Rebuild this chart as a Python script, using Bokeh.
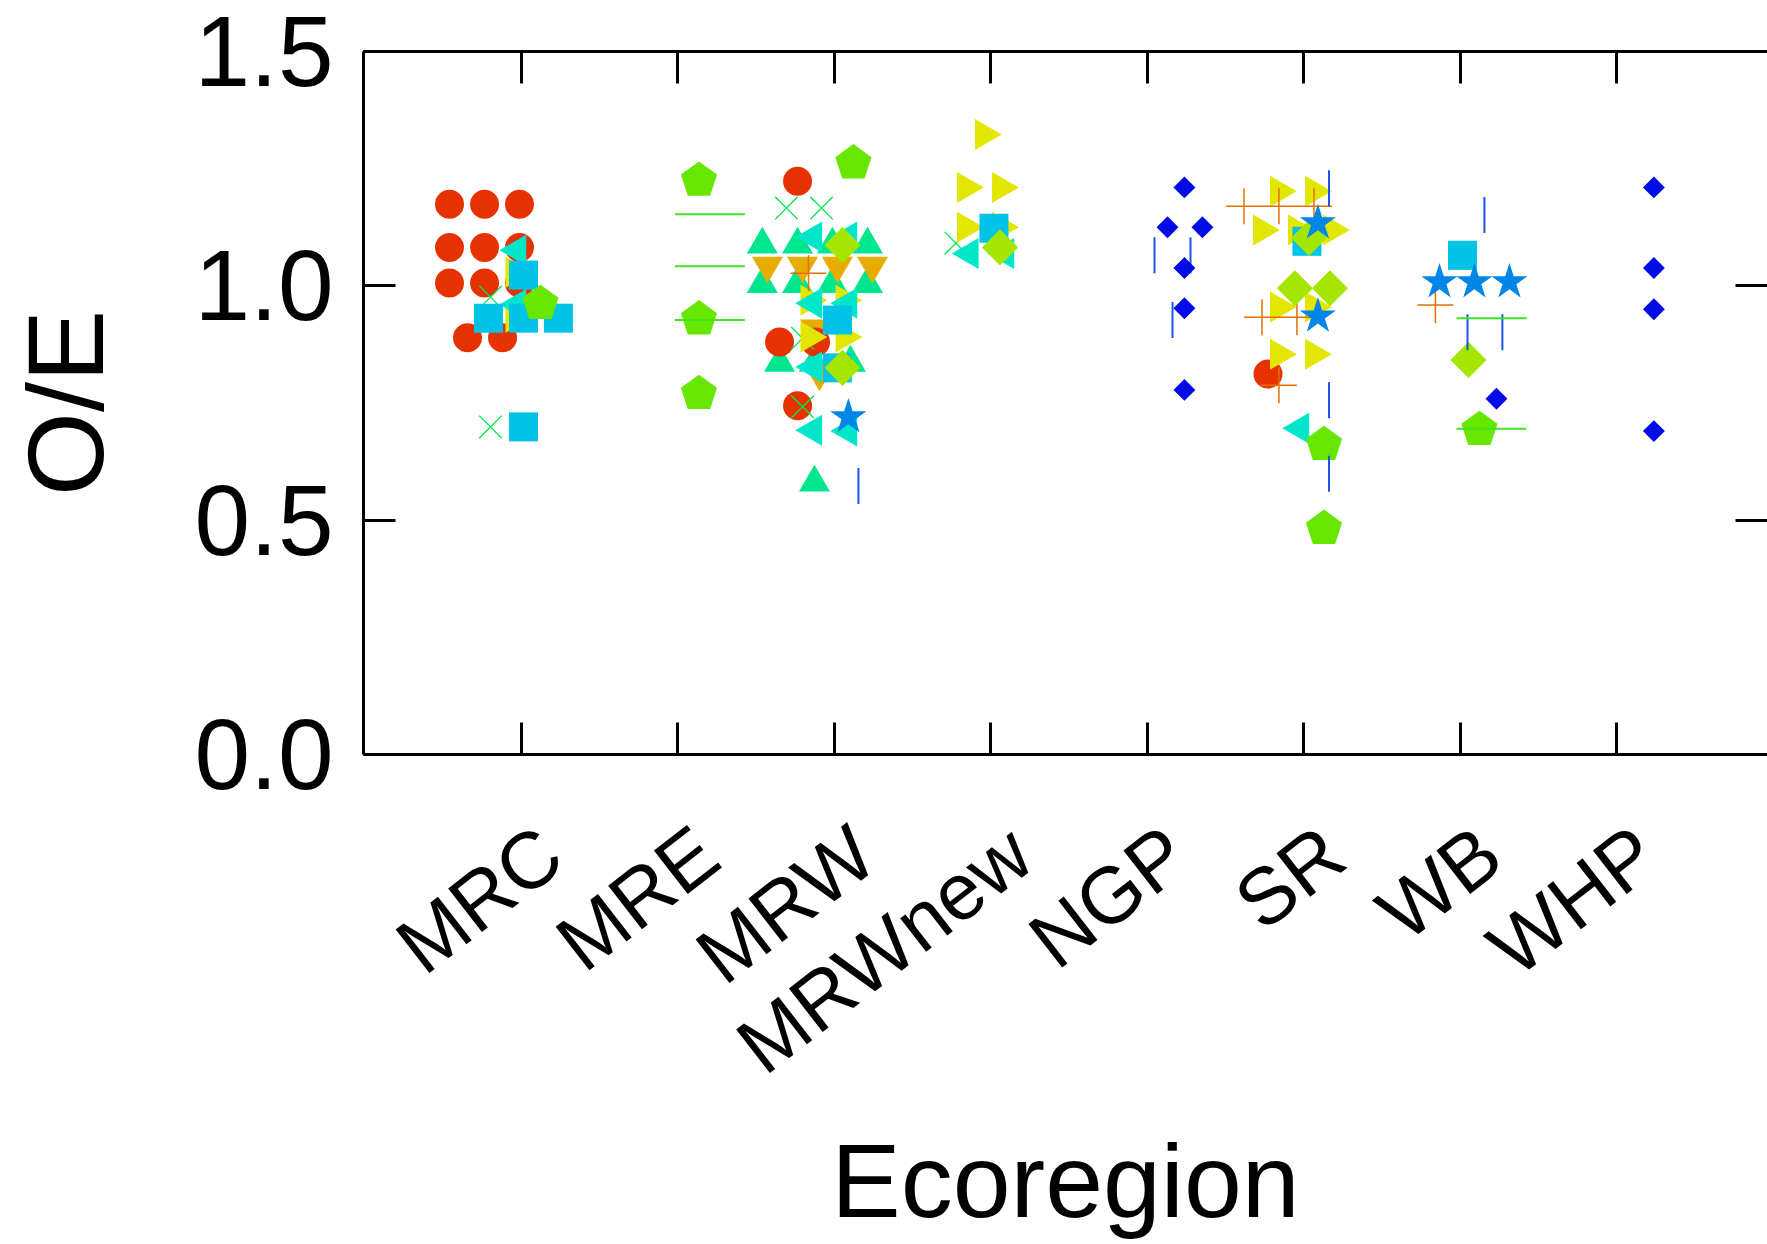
import math
from bokeh.plotting import figure
from bokeh.models import Range1d, FixedTicker, LinearAxis, NumeralTickFormatter
from bokeh.embed import file_html
from bokeh.resources import INLINE

# ---------------- data ----------------
CATS = ["MRC", "MRE", "MRW", "MRWnew", "NGP", "SR", "WB", "WHP"]
Y_TICKS = [0.0, 0.5, 1.0, 1.5]

# red circles
CIRCLE_CAT = ["MRC"] * 11 + ["MRW"] * 4 + ["SR"]
CIRCLE_DX = [-0.46, -0.236, -0.013, -0.46, -0.236, -0.013, -0.46, -0.236, -0.013, -0.345, -0.121,
             -0.236, -0.351, -0.121, -0.236, -0.23]
CIRCLE_OE = [1.174, 1.174, 1.174, 1.082, 1.082, 1.082, 1.006, 1.006, 1.006, 0.889, 0.889,
             1.223, 0.880, 0.880, 0.744, 0.812]

# orange plus
PLUS_CAT = ["MRW", "SR", "SR", "SR", "SR", "SR", "SR", "WB"]
PLUS_DX = [-0.166, -0.383, -0.16, 0.064, -0.268, -0.045, -0.16, -0.16]
PLUS_OE = [1.027, 1.170, 1.170, 1.170, 0.933, 0.933, 0.788, 0.959]

# orange down triangles
DTRI_CAT = ["MRW"] * 6
DTRI_DX = [-0.428, -0.204, 0.019, 0.243, -0.121, -0.096]
DTRI_OE = [1.043, 1.043, 1.043, 1.043, 0.909, 0.813]

# yellow right triangles
RTRI_CAT = ["MRC"] * 2 + ["MRW"] * 4 + ["MRWnew"] * 5 + ["SR"] * 9
RTRI_DX = [-0.045, -0.045,
           -0.16, 0.064, -0.16, 0.064,
           -0.045, -0.16, 0.064, -0.16, 0.064,
           -0.16, 0.064, -0.268, -0.045, 0.179, -0.16, 0.064, -0.16, 0.064]
RTRI_OE = [1.029, 0.933,
           0.969, 0.969, 0.891, 0.891,
           1.323, 1.210, 1.210, 1.125, 1.125,
           1.202, 1.202, 1.119, 1.119, 1.119, 0.955, 0.955, 0.854, 0.854]

# yellow-green diamonds
DIAM_CAT = ["MRW", "MRW", "MRWnew", "SR", "SR", "SR", "WB"]
DIAM_DX = [0.051, 0.051, 0.058, 0.032, -0.058, 0.166, 0.051]
DIAM_OE = [1.087, 0.825, 1.082, 1.102, 0.995, 0.995, 0.842]

# green pentagons
PENT_CAT = ["MRC", "MRE", "MRE", "MRE", "MRW", "SR", "SR", "WB"]
PENT_DX = [0.121, 0.134, 0.134, 0.134, 0.121, 0.128, 0.128, 0.121]
PENT_OE = [0.962, 1.225, 0.929, 0.770, 1.262, 0.661, 0.482, 0.693]

# green dashes
DASH_CAT = ["MRE"] * 3 + ["WB"] * 2
DASH_DX = [0.204, 0.204, 0.204, 0.198, 0.198]
DASH_OE = [1.153, 1.042, 0.927, 0.931, 0.695]

# green crosses (x)
X_CAT = ["MRC", "MRC", "MRW", "MRW", "MRW", "MRW", "MRWnew"]
X_DX = [-0.198, -0.198, -0.307, -0.083, -0.204, -0.204, -0.224]
X_OE = [0.976, 0.699, 1.166, 1.166, 0.888, 0.742, 1.091]

# green up triangles
UTRI_CAT = ["MRW"] * 12
UTRI_DX = [-0.461, -0.236, -0.013, 0.211, -0.461, -0.236, -0.013, 0.211, -0.351, -0.128, 0.102, -0.128]
UTRI_OE = [1.088, 1.088, 1.088, 1.088, 1.004, 1.004, 1.004, 1.004, 0.836, 0.836, 0.836, 0.580]

# cyan left triangles
LTRI_CAT = ["MRC", "MRC"] + ["MRW"] * 7 + ["MRWnew", "MRWnew", "SR"]
LTRI_DX = [-0.027, -0.027, -0.136, 0.088, -0.136, 0.088, -0.136, -0.136, 0.088, -0.136, 0.091, -0.024]
LTRI_OE = [1.076, 0.960, 1.104, 1.104, 0.963, 0.963, 0.827, 0.692, 0.690, 1.069, 1.069, 0.696]

# light blue squares
SQ_CAT = ["MRC"] * 5 + ["MRW"] * 2 + ["MRWnew", "SR", "WB"]
SQ_DX = [0.013, -0.211, 0.013, 0.236, 0.013, 0.019, 0.019, 0.019, 0.019, 0.013]
SQ_OE = [1.023, 0.931, 0.931, 0.931, 0.699, 0.927, 0.825, 1.123, 1.095, 1.065]

# blue stars
STAR_CAT = ["MRW", "SR", "SR", "WB", "WB", "WB"]
STAR_DX = [0.089, 0.089, 0.089, -0.134, 0.089, 0.313]
STAR_OE = [0.720, 1.134, 0.935, 1.008, 1.008, 1.008]

# blue vertical bars
VL_CAT = ["MRW", "NGP", "NGP", "NGP", "SR", "SR", "SR", "WB", "WB", "WB"]
VL_DX = [0.153, 0.045, 0.275, 0.16, 0.16, 0.16, 0.16, 0.153, 0.045, 0.268]
VL_OE = [0.573, 1.065, 1.065, 0.927, 1.208, 0.756, 0.599, 1.151, 0.901, 0.901]

# dark blue small diamonds
SD_CAT = ["NGP"] * 6 + ["WB"] + ["WHP"] * 4
SD_DX = [0.236, 0.128, 0.351, 0.236, 0.236, 0.236, 0.230, 0.236, 0.236, 0.236, 0.236]
SD_OE = [1.210, 1.125, 1.125, 1.038, 0.952, 0.778, 0.759, 1.210, 1.038, 0.950, 0.690]

# ---------------- styling ----------------
FONT = "Liberation Sans"
X_START, X_END = -0.0096, 8.962
LABEL_SHIFT = 0.19


def xs(cats, dxs):
    return [CATS.index(c) + 1 + d for c, d in zip(cats, dxs)]


p = figure(width=1767, height=1242,
           x_range=Range1d(X_START, X_END), y_range=Range1d(0, 1.5),
           output_backend="svg", toolbar_location=None,
           min_border_left=363, min_border_right=0, min_border_top=51, min_border_bottom=487)
p.grid.visible = False
p.outline_line_color = None
p.background_fill_color = "white"
p.border_fill_color = "white"
p.extra_x_ranges = {"lab": Range1d(X_START - LABEL_SHIFT, X_END - LABEL_SHIFT)}


def hide_labels(ax):
    ax.major_label_text_font_size = "0px"
    ax.major_label_text_color = None
    ax.major_label_standoff = 0


# left axis
yax = p.yaxis[0]
yax.ticker = FixedTicker(ticks=Y_TICKS)
yax.formatter = NumeralTickFormatter(format="0.0")
yax.major_tick_in = 32
yax.major_tick_out = 0
yax.minor_tick_line_color = None
yax.major_tick_line_width = 3
yax.major_tick_line_color = "black"
yax.axis_line_width = 3
yax.axis_line_color = "black"
yax.major_label_text_font = FONT
yax.major_label_text_font_size = "100px"
yax.major_label_text_color = "black"
yax.major_label_standoff = 30
yax.axis_label = "O/E"
yax.axis_label_text_font = FONT
yax.axis_label_text_font_size = "108px"
yax.axis_label_text_font_style = "normal"
yax.axis_label_text_color = "black"
yax.axis_label_standoff = 65

# bottom axis (ticks + line)
xax = p.xaxis[0]
xax.ticker = FixedTicker(ticks=[1, 2, 3, 4, 5, 6, 7, 8])
xax.major_tick_in = 32
xax.major_tick_out = 0
xax.minor_tick_line_color = None
xax.major_tick_line_width = 3
xax.major_tick_line_color = "black"
xax.axis_line_width = 3
xax.axis_line_color = "black"
hide_labels(xax)

# bottom labels axis (shifted)
lab = LinearAxis(x_range_name="lab", ticker=FixedTicker(ticks=[1, 2, 3, 4, 5, 6, 7, 8]),
                 major_label_overrides={i + 1: c for i, c in enumerate(CATS)})
lab.axis_line_color = None
lab.major_tick_line_color = None
lab.minor_tick_line_color = None
lab.major_tick_in = 0
lab.major_tick_out = 0
lab.major_label_orientation = 0.66
lab.major_label_text_font = FONT
lab.major_label_text_font_size = "80px"
lab.major_label_text_color = "black"
lab.major_label_standoff = 89
lab.axis_label = "Ecoregion"
lab.axis_label_text_font = FONT
lab.axis_label_text_font_size = "104px"
lab.axis_label_text_font_style = "normal"
lab.axis_label_text_color = "black"
lab.axis_label_standoff = -5
p.add_layout(lab, "below")

# top axis (ticks + line)
top = LinearAxis(ticker=FixedTicker(ticks=[1, 2, 3, 4, 5, 6, 7, 8]))
top.major_tick_in = 32
top.major_tick_out = 0
top.minor_tick_line_color = None
top.major_tick_line_width = 3
top.major_tick_line_color = "black"
top.axis_line_width = 3
top.axis_line_color = "black"
hide_labels(top)
p.add_layout(top, "above")

# right axis (ticks only)
rax = LinearAxis(ticker=FixedTicker(ticks=Y_TICKS))
rax.major_tick_in = 32
rax.major_tick_out = 0
rax.minor_tick_line_color = None
rax.major_tick_line_width = 3
rax.major_tick_line_color = "black"
rax.axis_line_color = None
hide_labels(rax)
p.add_layout(rax, "right")

# ---------------- marks ----------------
C_RED = "#E63200"
C_ORANGE = "#E66F00"
C_AMBER = "#E6AC00"
C_YELLOW = "#E2E600"
C_YGREEN = "#A5E600"
C_GREEN = "#67E600"
C_DASH = "#3CE620"
C_XGREEN = "#00E650"
C_TEAL = "#00E68E"
C_CYAN = "#00E6CB"
C_SKY = "#00C3E6"
C_BLUE = "#0086E6"
C_VBLUE = "#1E55E6"
C_NAVY = "#000BE6"

p.scatter(xs(UTRI_CAT, UTRI_DX), UTRI_OE, marker="triangle", size=31,
          fill_color=C_TEAL, line_color=None)
p.scatter(xs(DTRI_CAT, DTRI_DX), DTRI_OE, marker="inverted_triangle", size=31,
          fill_color=C_AMBER, line_color=None)
p.scatter(xs(CIRCLE_CAT, CIRCLE_DX), CIRCLE_OE, marker="circle", size=29,
          fill_color=C_RED, line_color=None)
p.scatter(xs(X_CAT, X_DX), X_OE, marker="x", size=32,
          line_color=C_XGREEN, line_width=1.3)
p.scatter(xs(RTRI_CAT, RTRI_DX), RTRI_OE, marker="triangle", size=31, angle=-math.pi / 2,
          fill_color=C_YELLOW, line_color=None)
p.scatter(xs(PLUS_CAT, PLUS_DX), PLUS_OE, marker="cross", size=36,
          line_color=C_ORANGE, line_width=1.5)
p.scatter(xs(LTRI_CAT, LTRI_DX), LTRI_OE, marker="triangle", size=31, angle=math.pi / 2,
          fill_color=C_CYAN, line_color=None)
p.scatter(xs(SQ_CAT, SQ_DX), SQ_OE, marker="square", size=29,
          fill_color=C_SKY, line_color=None)
p.scatter(xs(DIAM_CAT, DIAM_DX), DIAM_OE, marker="square", size=25.5, angle=math.pi / 4,
          fill_color=C_YGREEN, line_color=None)
p.ngon(xs(PENT_CAT, PENT_DX), PENT_OE, radius=19, radius_units="screen", n=5,
       angle=0.0, fill_color=C_GREEN, line_color=None)
p.scatter(xs(VL_CAT, VL_DX), VL_OE, marker="dash", size=36, angle=math.pi / 2,
          line_color=C_VBLUE, line_width=2)
p.scatter(xs(SD_CAT, SD_DX), SD_OE, marker="square", size=15.5, angle=math.pi / 4,
          fill_color=C_NAVY, line_color=None)
p.scatter(xs(STAR_CAT, STAR_DX), STAR_OE, marker="star", size=38,
          fill_color=C_BLUE, line_color=None)
p.scatter(xs(DASH_CAT, DASH_DX), DASH_OE, marker="dash", size=70,
          line_color=C_DASH, line_width=2)

open("out.html", "w").write(file_html(p, INLINE))
